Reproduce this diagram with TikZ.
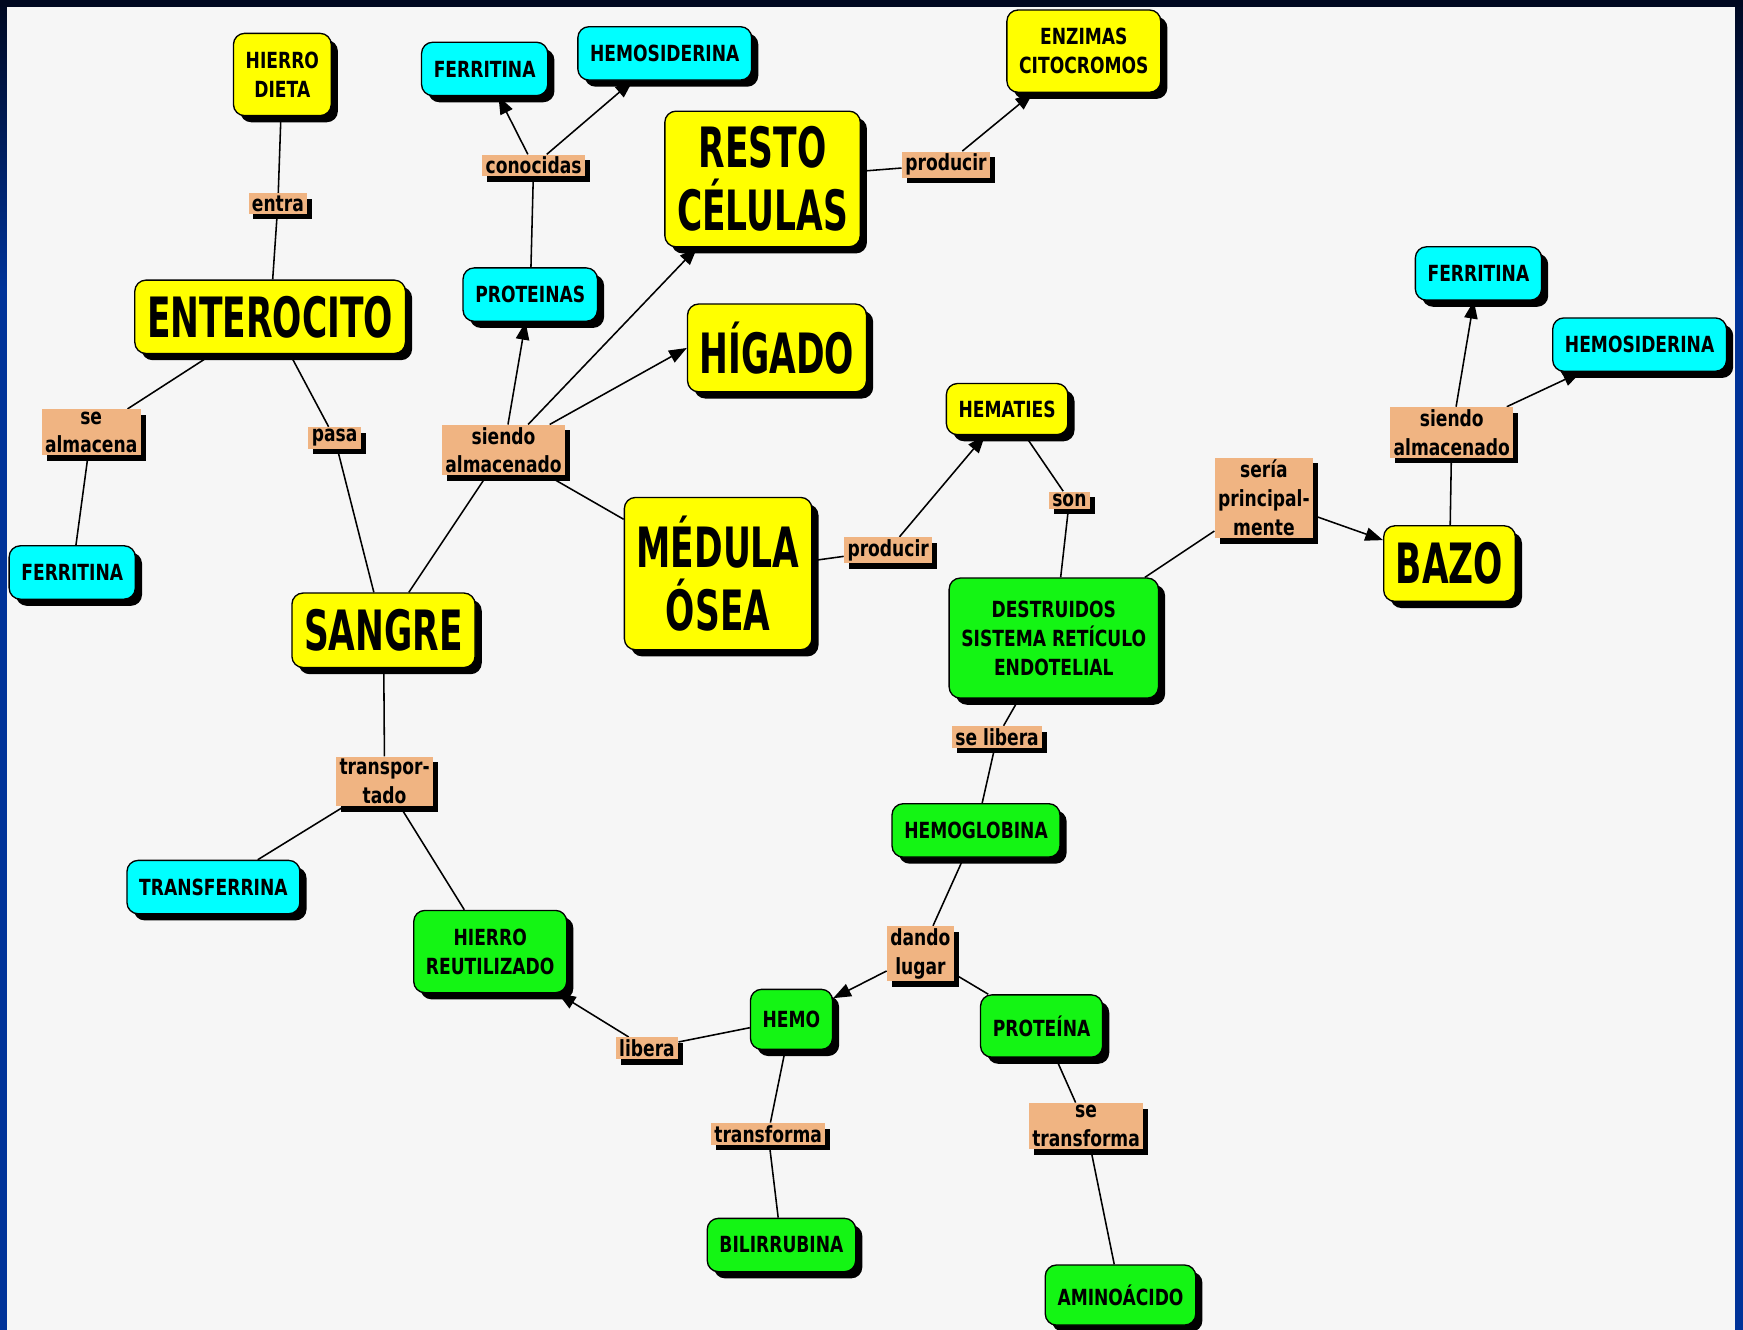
\documentclass[tikz,border=0pt]{standalone}
\usepackage{fontspec}
\setmainfont{DejaVu Sans}[FakeStretch=0.77]
\newfontfamily\bigfont{DejaVu Sans}[FakeStretch=0.62]
\usepackage{tikz}
\usetikzlibrary{arrows.meta,shadows}

\definecolor{cyel}{RGB}{255,255,0}
\definecolor{ccyan}{RGB}{0,255,255}
\definecolor{cgreen}{RGB}{20,245,20}
\definecolor{ctan}{RGB}{240,180,130}
\definecolor{cpaper}{RGB}{246,246,246}
\definecolor{cnavy}{RGB}{0,8,32}
\definecolor{cframe}{RGB}{0,51,153}
\pgfdeclarelayer{bg}
\pgfsetlayers{bg,main}

\begin{document}
\begin{tikzpicture}[x=0.5pt, y=-0.5pt, line join=round,
  concept/.style={rounded corners=5pt, draw=black, line width=0.6pt, align=center,
    inner xsep=5.5pt, inner ysep=3pt, minimum height=24pt,
    font=\bfseries\fontsize{10}{13}\selectfont,
    drop shadow={shadow xshift=3pt, shadow yshift=-3pt, fill=black, opacity=1}},
  bigtxt/.style={font=\bigfont\bfseries\fontsize{25}{28.5}\selectfont},
  yel/.style={concept, fill=cyel},
  cya/.style={concept, fill=ccyan},
  grn/.style={concept, fill=cgreen},
  link/.style={fill=ctan, align=center, inner xsep=1.5pt, inner ysep=1pt,
    font=\bfseries\fontsize{10}{13}\selectfont,
    drop shadow={shadow xshift=2.2pt, shadow yshift=-2.5pt, fill=black, opacity=1}},
  con/.style={line width=0.7pt},
  arr/.style={con, -{Triangle[length=8pt,width=6pt]}}]
  \useasboundingbox (0,0) rectangle (1568,1196);
  % concepts
  \node[yel, minimum height=37pt] (HD) at (254,67) {HIERRO\\DIETA};
  \node[yel, bigtxt, minimum height=33pt] (ENT) at (243,285) {ENTEROCITO};
  \node[cya] (FE1) at (65,515) {FERRITINA};
  \node[cya] (FE2) at (436,62) {FERRITINA};
  \node[cya] (HS1) at (598,48) {HEMOSIDERINA};
  \node[cya] (PRO) at (477,265) {PROTEINAS};
  \node[yel, bigtxt, minimum height=61pt] (RC) at (686,161) {RESTO\\CÉLULAS};
  \node[yel, minimum height=37pt] (EC) at (975,46) {ENZIMAS\\CITOCROMOS};
  \node[yel, bigtxt, minimum height=39.5pt] (HIG) at (699,313) {HÍGADO};
  \node[yel, minimum height=23pt] (HEM) at (906,368) {HEMATIES};
  \node[yel, bigtxt, minimum height=68.5pt] (MO) at (646,516) {MÉDULA\\ÓSEA};
  \node[yel, bigtxt, minimum height=33.5pt] (SAN) at (345,567) {SANGRE};
  \node[grn, minimum height=54pt] (DSR) at (948,574) {DESTRUIDOS\\SISTEMA RETÍCULO\\ENDOTELIAL};
  \node[cya] (FE3) at (1330,246) {FERRITINA};
  \node[cya] (HS2) at (1475,310) {HEMOSIDERINA};
  \node[yel, bigtxt, minimum height=34pt] (BAZ) at (1304,507) {BAZO};
  \node[grn] (HGB) at (878,747) {HEMOGLOBINA};
  \node[cya] (TRF) at (192,798) {TRANSFERRINA};
  \node[grn, minimum height=37pt] (HR) at (441,856) {HIERRO\\REUTILIZADO};
  \node[grn, minimum height=27pt] (HEMO) at (712,917) {HEMO};
  \node[grn, minimum height=28pt] (PRT) at (937,923) {PROTEÍNA};
  \node[grn] (BIL) at (703,1120) {BILIRRUBINA};
  \node[grn, minimum height=27pt] (AMI) at (1008,1165) {AMINOÁCIDO};
  % linking phrases
  \node[link] (lEntra) at (250,183) {entra};
  \node[link] (lConoc) at (480,149) {conocidas};
  \node[link] (lAlm) at (82,389) {se\\almacena};
  \node[link] (lPasa) at (301,394) {pasa};
  \node[link] (lSiendoA) at (453,405) {siendo\\almacenado};
  \node[link] (lProdA) at (851,148) {producir};
  \node[link] (lProdB) at (799,495) {producir};
  \node[link] (lSon) at (962,450) {son};
  \node[link] (lSeria) at (1137,448) {sería\\principal-\\mente};
  \node[link] (lSiendoB) at (1306,389) {siendo\\almacenado};
  \node[link] (lSeLib) at (897,663) {se libera};
  \node[link] (lTransp) at (346,703) {transpor-\\tado};
  \node[link] (lDando) at (828,858) {dando\\lugar};
  \node[link] (lLib) at (582,943) {libera};
  \node[link] (lTransfA) at (691,1020) {transforma};
  \node[link] (lTransfB) at (977,1013) {se\\transforma};
  \begin{pgfonlayer}{bg}
    % frame and paper
    \fill[cframe] (0,0) rectangle (1568,1196);
    \shade[top color=cnavy, bottom color=cframe] (0,0) rectangle (1568,260);
    \fill[cnavy] (0,0) rectangle (1568,6);
    \fill[cpaper] (6,6) rectangle (1561,1196);
    % connectors
    \draw[con] (HD) -- (lEntra) -- (ENT);
    \draw[con] (ENT) -- (lAlm) -- (FE1);
    \draw[con] (ENT) -- (lPasa) -- (SAN);
    \draw[con] (SAN) -- (lSiendoA);
    \draw[arr] (lSiendoA) -- (PRO);
    \draw[arr] (lSiendoA) -- (RC);
    \draw[arr] (lSiendoA) -- (HIG.west);
    \draw[con] (lSiendoA) -- (MO);
    \draw[con] (PRO) -- (lConoc);
    \draw[arr] (lConoc) -- (FE2);
    \draw[arr] (lConoc) -- (HS1);
    \draw[con] (RC) -- (lProdA);
    \draw[arr] (lProdA) -- (EC);
    \draw[con] (MO) -- (lProdB);
    \draw[arr] (lProdB) -- (HEM);
    \draw[con] (HEM) -- (lSon) -- (DSR);
    \draw[con] (DSR) -- (lSeria);
    \draw[arr] (lSeria) -- (BAZ);
    \draw[con] (BAZ) -- (lSiendoB);
    \draw[arr] (lSiendoB) -- (FE3);
    \draw[arr] (lSiendoB) -- (HS2);
    \draw[con] (DSR) -- (lSeLib) -- (HGB);
    \draw[con] (HGB) -- (lDando);
    \draw[arr] (lDando) -- (HEMO);
    \draw[con] (lDando) -- (PRT);
    \draw[con] (HEMO) -- (lLib);
    \draw[arr] (lLib) -- (HR);
    \draw[con] (HEMO) -- (lTransfA) -- (BIL);
    \draw[con] (PRT) -- (lTransfB) -- (AMI);
    \draw[con] (SAN) -- (lTransp);
    \draw[con] (lTransp) -- (TRF);
    \draw[con] (lTransp) -- (HR);
  \end{pgfonlayer}
\end{tikzpicture}
\end{document}
